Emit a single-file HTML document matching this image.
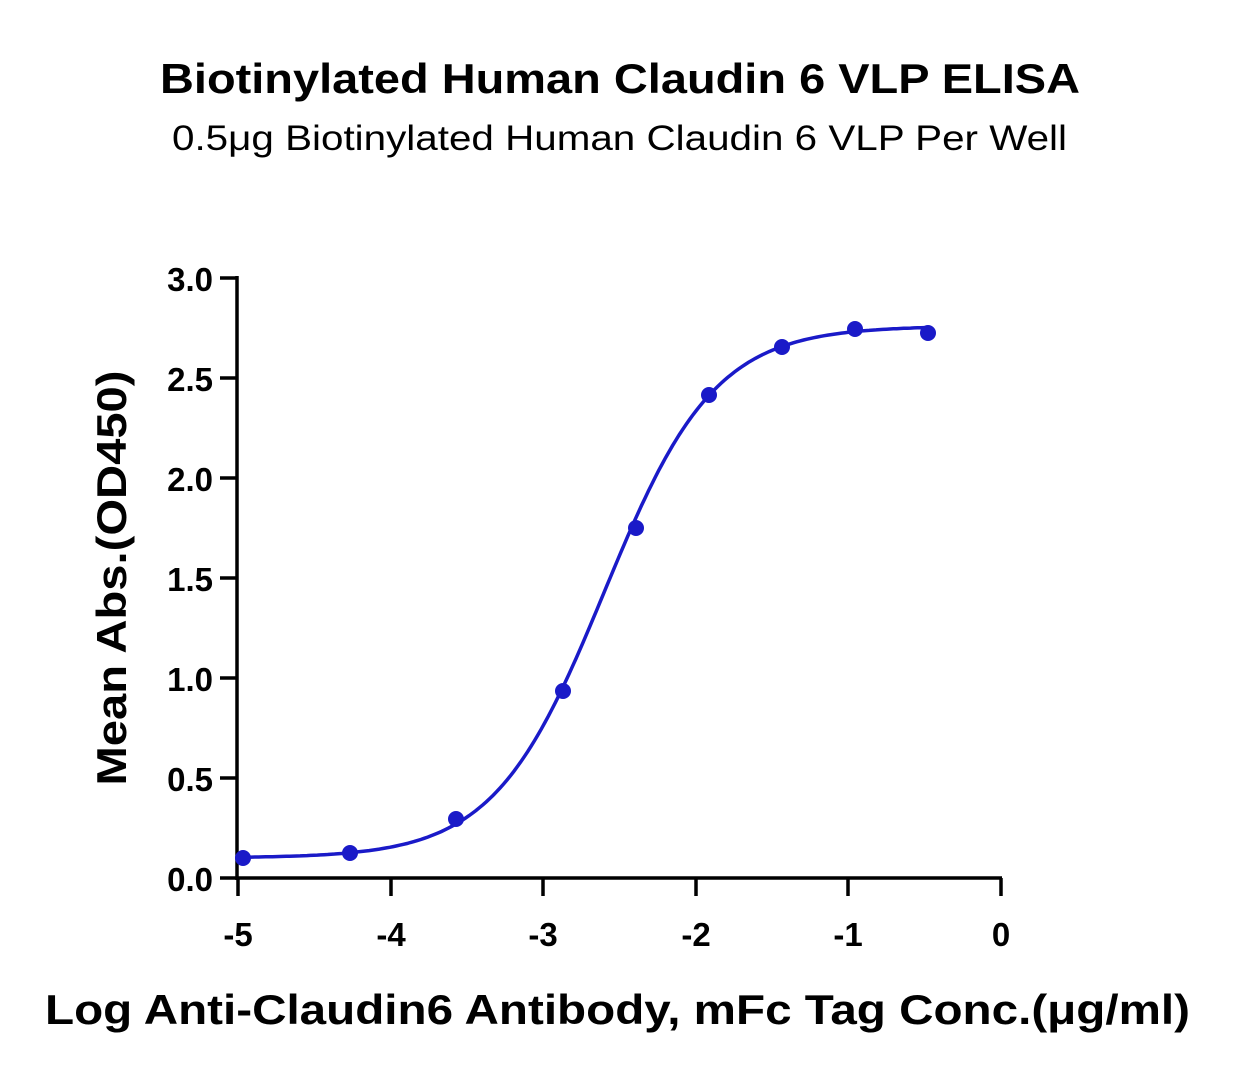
<!DOCTYPE html>
<html><head><style>
body{margin:0;background:#fff;}
svg text{font-family:"Liberation Sans",sans-serif;}
</style></head><body>
<svg width="1237" height="1077" viewBox="0 0 1237 1077" xmlns="http://www.w3.org/2000/svg">
<text x="160" y="93" textLength="920" lengthAdjust="spacingAndGlyphs" font-size="42" font-weight="bold">Biotinylated Human Claudin 6 VLP ELISA</text>
<text x="172" y="150" textLength="895" lengthAdjust="spacingAndGlyphs" font-size="35">0.5μg Biotinylated Human Claudin 6 VLP Per Well</text>
<g stroke="#000" stroke-width="3.5" fill="none">
<path d="M237 276 V880 M220 278 H237 M220 378 H237 M220 478 H237 M220 578 H237 M220 678 H237 M220 778 H237 M220 878 H237"/>
<path d="M236 878 H1002 M238 878 V896 M391 878 V896 M543 878 V896 M696 878 V896 M848 878 V896 M1001 878 V896"/>
</g>
<g font-size="33" font-weight="bold" text-anchor="end">
<text x="213" y="291">3.0</text><text x="213" y="391">2.5</text><text x="213" y="491">2.0</text>
<text x="213" y="591">1.5</text><text x="213" y="691">1.0</text><text x="213" y="791">0.5</text><text x="213" y="891">0.0</text>
</g>
<g font-size="33" font-weight="bold" text-anchor="middle">
<text x="238" y="946">-5</text><text x="391" y="946">-4</text><text x="543" y="946">-3</text>
<text x="696" y="946">-2</text><text x="848" y="946">-1</text><text x="1001" y="946">0</text>
</g>
<text x="45" y="1024" textLength="1145" lengthAdjust="spacingAndGlyphs" font-size="42" font-weight="bold">Log Anti-Claudin6 Antibody, mFc Tag Conc.(μg/ml)</text>
<text transform="translate(126,578) rotate(-90)" text-anchor="middle" textLength="415" lengthAdjust="spacingAndGlyphs" font-size="42" font-weight="bold">Mean Abs.(OD450)</text>
<path id="c" fill="none" stroke="#1a1ac8" stroke-width="3.5"/>
<g fill="#1a1ac8">
<circle cx="243" cy="858" r="8"/><circle cx="350" cy="853" r="8"/><circle cx="456" cy="819" r="8"/>
<circle cx="563" cy="691" r="8"/><circle cx="636" cy="528" r="8"/><circle cx="709" cy="395" r="8"/>
<circle cx="782" cy="347" r="8"/><circle cx="855" cy="329" r="8"/><circle cx="928" cy="333" r="8"/>
</g>
<script>
var d="";for(var i=0;i<=200;i++){var x=-5+i*(4.52/200);var y=0.1+2.66/(1+Math.pow(10,1.2*(-2.6-x)));
var px=238+(x+5)*152.6,py=878-y*200;d+=(i?"L":"M")+px.toFixed(1)+" "+py.toFixed(1);}
document.getElementById("c").setAttribute("d",d);
</script>
</svg>
</body></html>
